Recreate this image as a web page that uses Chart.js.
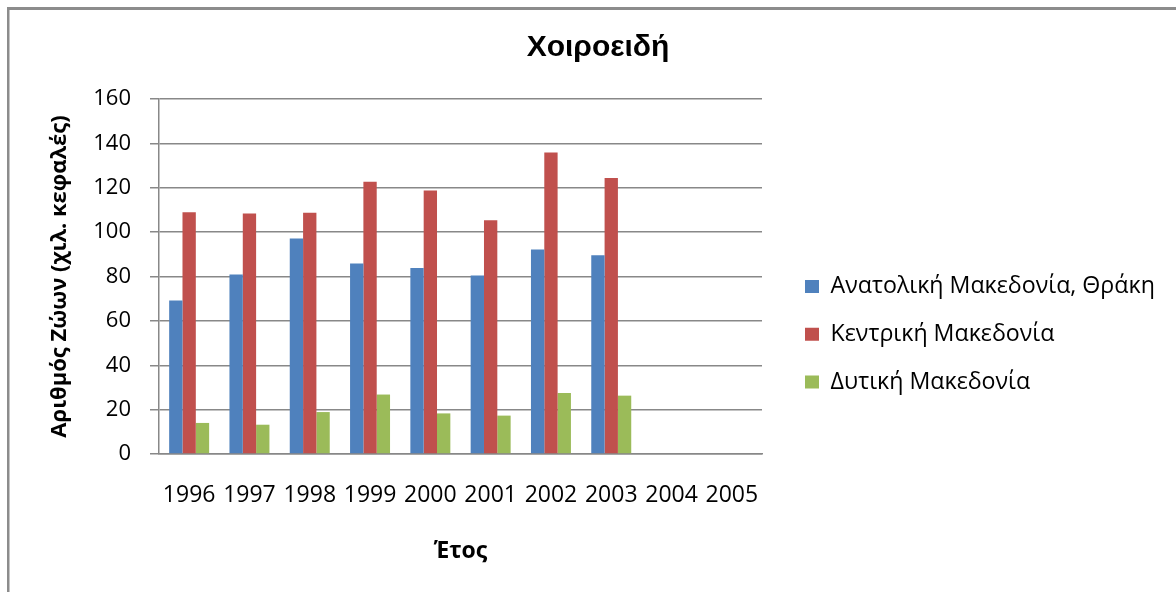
<!DOCTYPE html>
<html>
<head>
<meta charset="utf-8">
<script src="https://cdn.jsdelivr.net/npm/chart.js@4/dist/chart.umd.min.js"></script>
<style>
  html, body { margin: 0; padding: 0; background: #ffffff; }
  #wrap { position: relative; width: 1176px; height: 592px; overflow: hidden; }
  canvas { display: block; }
</style>
</head>
<body>
<div id="wrap"><canvas id="c" width="1176" height="592"></canvas></div>
<script>
// ---- data ----
const categories = ['1996', '1997', '1998', '1999', '2000', '2001', '2002', '2003', '2004', '2005'];
const seriesNames = ['Ανατολική Μακεδονία, Θράκη', 'Κεντρική Μακεδονία', 'Δυτική Μακεδονία'];
const eastMacedoniaThrace = [69.2, 80.9, 97.1, 85.9, 83.8, 80.5, 92.2, 89.6, null, null];
const centralMacedonia = [109.0, 108.4, 108.7, 122.7, 118.8, 105.3, 135.9, 124.4, null, null];
const westMacedonia = [14.0, 13.2, 18.9, 26.8, 18.3, 17.3, 27.5, 26.3, null, null];
const yTicks = [0, 20, 40, 60, 80, 100, 120, 140, 160];
const chartTitle = 'Χοιροειδή';
const yAxisTitle = 'Αριθμός Ζώων (χιλ. κεφαλές)';
const xAxisTitle = 'Έτος';

// ---- styling ----
const BODY_FONT = "'Open Sans', 'Noto Sans', sans-serif";
const GRID = '#888888';
const LEGEND_FONT = 23.2;
const LEGEND_PAD = 24.5;
const LEGEND_WIDTH = 414;

const framePlugin = {
  id: 'frame',
  beforeDraw(chart) {
    const ctx = chart.ctx;
    ctx.save();
    ctx.fillStyle = '#8c8c8c';
    ctx.fillRect(7, 7, 2.5, 600);
    ctx.fillRect(7, 7, 1200, 3);
    ctx.restore();
  }
};

const legendPlace = {
  id: 'legendPlace',
  beforeLayout(chart) {
    const lg = chart.legend;
    if (lg && !lg.__wrapped) {
      const f = lg.fit;
      lg.fit = function () { f.call(this); this.width = LEGEND_WIDTH; };
      lg.__wrapped = true;
    }
  },
  afterLayout(chart) {
    const lg = chart.legend;
    if (!lg) return;
    const w = lg.width, h = lg.height;
    lg.left = 805 - LEGEND_PAD;
    lg.right = lg.left + w;
    lg.top = 286.5 - LEGEND_FONT / 2 - LEGEND_PAD;
    lg.bottom = lg.top + h;
  }
};

new Chart(document.getElementById('c'), {
  type: 'bar',
  data: {
    labels: categories,
    datasets: [
      { label: seriesNames[0], data: eastMacedoniaThrace, backgroundColor: '#4F81BD' },
      { label: seriesNames[1], data: centralMacedonia, backgroundColor: '#C0504D' },
      { label: seriesNames[2], data: westMacedonia, backgroundColor: '#9BBB59' }
    ]
  },
  options: {
    responsive: false,
    animation: false,
    devicePixelRatio: 1,
    layout: { padding: { left: 20, right: 0, top: 0, bottom: 0 } },
    datasets: { bar: { categoryPercentage: 0.663, barPercentage: 1.0, borderWidth: 0 } },
    plugins: {
      tooltip: { enabled: false },
      title: {
        display: true,
        text: chartTitle,
        color: '#000000',
        font: { family: "'Liberation Sans', Arial, sans-serif", size: 30, weight: 'bold', lineHeight: 1.2 },
        padding: { top: 30, bottom: 33 }
      },
      legend: {
        display: true,
        position: 'right',
        align: 'start',
        labels: {
          color: '#000000',
          font: { family: BODY_FONT, size: LEGEND_FONT },
          boxWidth: 14,
          boxHeight: 13,
          padding: LEGEND_PAD
        }
      }
    },
    scales: {
      x: {
        afterFit: s => { s.height = 138; },
        grid: { display: false, drawTicks: false },
        border: { display: true, color: GRID, width: 1.5 },
        ticks: { color: '#000000', font: { family: BODY_FONT, size: 23 }, padding: 28, maxRotation: 0, autoSkip: false },
        title: {
          display: true, text: xAxisTitle, color: '#000000',
          font: { family: BODY_FONT, size: 23, weight: 'bold', lineHeight: 1.2 },
          padding: { top: 0, bottom: 26.7 }
        }
      },
      y: {
        min: 0, max: 160,
        afterBuildTicks: s => { s.ticks = yTicks.map(v => ({ value: v })); },
        afterFit: s => { s.width = 139; },
        grid: { color: GRID, lineWidth: 1.5, drawTicks: true, tickLength: 9, tickColor: GRID },
        border: { display: true, color: GRID, width: 1.5 },
        ticks: { color: '#000000', font: { family: BODY_FONT, size: 22 }, padding: 19 },
        title: {
          display: true, text: yAxisTitle, color: '#000000',
          font: { family: BODY_FONT, size: 22, weight: 'bold', lineHeight: 1.2 },
          padding: { top: 26.8, bottom: 0 }
        }
      }
    }
  },
  plugins: [framePlugin, legendPlace]
});
</script>
</body>
</html>
